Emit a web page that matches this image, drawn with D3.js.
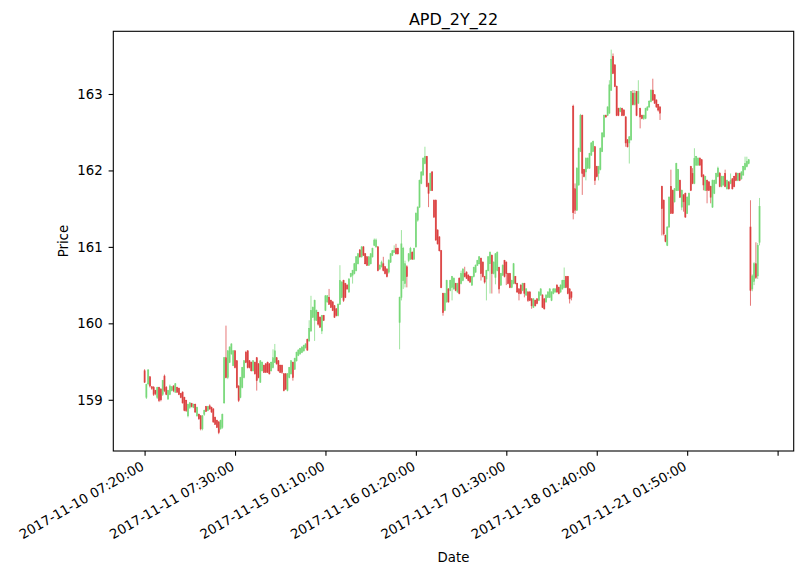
<!DOCTYPE html>
<html>
<head>
<meta charset="utf-8">
<script src="https://cdn.jsdelivr.net/npm/d3@7"></script>
<style>
  body { margin: 0; background: #fff; }
  text { font-family: "DejaVu Sans", sans-serif; fill: #000; }
</style>
</head>
<body>
<div id="viz"></div>
<script>
// candle values, one entry per bar (bar index = position on x)
let openPrices = [
  159.38,159.03,159.21,159.30,159.17,159.16,159.12,159.03,159.16,159.14,
  159.07,159.31,159.16,159.01,159.07,159.12,159.18,159.10,159.16,159.15,
  159.08,159.10,159.03,158.99,158.79,158.90,158.95,158.90,158.94,158.79,
  158.81,158.79,158.62,158.81,158.91,158.86,158.92,158.90,158.88,158.77,
  158.73,158.71,158.62,158.64,158.96,159.55,159.29,159.49,159.60,159.45,
  159.64,159.51,159.18,159.03,159.16,159.29,159.62,159.64,159.51,159.49,
  159.38,159.49,159.55,159.47,159.23,159.38,159.45,159.47,159.49,159.47,
  159.38,159.42,159.49,159.55,159.51,159.45,159.45,159.34,159.34,159.12,
  159.29,159.34,159.49,159.40,159.51,159.58,159.60,159.62,159.64,159.68,
  159.79,159.77,159.90,160.08,160.04,160.04,160.14,160.08,159.90,160.10,
  160.17,160.28,160.34,160.30,160.28,160.23,160.19,160.10,160.25,160.34,
  160.56,160.52,160.50,160.41,160.61,160.63,160.65,160.69,160.78,160.96,
  160.87,161.00,160.91,160.87,160.76,160.78,160.87,161.02,161.00,161.00,
  160.71,160.74,160.78,160.74,160.71,160.67,160.80,160.89,160.93,160.98,
  160.98,160.01,160.34,160.56,160.52,160.74,160.82,160.84,160.93,160.84,
  161.00,161.35,161.52,161.83,161.94,162.09,162.18,161.83,161.74,161.98,
  161.61,161.61,161.22,161.13,160.95,160.39,160.17,160.28,160.45,160.43,
  160.47,160.45,160.52,160.41,160.59,160.52,160.56,160.65,160.67,160.63,
  160.61,160.50,160.61,160.67,160.76,160.78,160.85,160.80,160.61,160.58,
  160.69,160.78,160.89,160.65,160.60,160.69,160.73,160.50,160.63,160.82,
  160.80,160.65,160.65,160.47,160.52,160.61,160.52,160.45,160.50,160.43,
  160.52,160.37,160.41,160.41,160.32,160.21,160.30,160.32,160.30,160.37,
  160.37,160.32,160.28,160.34,160.34,160.30,160.39,160.41,160.50,160.47,
  160.41,160.45,160.47,160.61,160.61,160.45,160.41,162.84,161.76,161.48,
  161.81,162.25,162.72,162.01,161.98,162.03,162.03,162.20,162.25,162.31,
  162.05,161.96,162.01,162.25,162.44,162.72,162.72,162.75,163.05,163.49,
  163.38,163.10,162.81,162.77,162.81,162.79,162.70,162.40,162.36,162.40,
  163.01,162.86,163.03,162.88,162.81,162.72,162.68,162.68,162.79,162.83,
  162.90,163.05,162.99,162.92,162.86,162.83,161.79,161.61,161.15,161.02,
  161.26,161.79,161.74,161.59,161.74,161.74,161.87,161.52,161.68,161.70,
  161.44,161.55,162.05,161.96,161.83,162.07,162.07,162.16,162.14,161.94,
  161.74,161.87,161.85,161.79,161.52,161.70,161.83,161.92,161.96,161.79,
  161.81,161.96,161.76,161.85,161.83,161.89,161.92,161.96,161.87,161.96,
  161.89,161.94,162.01,162.05,162.09,161.26,160.45,160.55,160.78,160.62,
  161.06
]

let highPrices = [
  159.40,159.21,159.40,159.31,159.18,159.18,159.13,159.17,159.17,159.15,
  159.26,159.33,159.18,159.13,159.20,159.18,159.19,159.22,159.17,159.16,
  159.09,159.11,159.04,159.00,158.95,158.97,158.96,158.95,158.95,158.91,
  158.82,158.80,158.80,158.87,158.92,158.92,158.94,158.91,158.89,158.78,
  158.74,158.72,158.74,158.82,159.56,159.97,159.65,159.70,159.74,159.65,
  159.65,159.52,159.19,159.30,159.43,159.52,159.64,159.65,159.52,159.50,
  159.52,159.50,159.56,159.48,159.52,159.50,159.46,159.48,159.50,159.48,
  159.50,159.66,159.73,159.56,159.52,159.46,159.46,159.35,159.35,159.35,
  159.43,159.52,159.50,159.55,159.63,159.66,159.68,159.70,159.72,159.74,
  159.80,160.04,160.36,160.22,160.31,160.18,160.15,160.09,160.11,160.11,
  160.37,160.37,160.45,160.31,160.29,160.24,160.20,160.26,160.76,160.55,
  160.57,160.53,160.51,160.59,160.66,160.70,160.79,160.88,160.92,160.97,
  161.01,161.01,160.92,160.88,160.88,160.92,160.99,161.11,161.11,161.01,
  160.77,160.82,160.87,160.75,160.72,160.84,160.92,160.96,161.02,161.04,
  160.99,160.35,161.22,161.00,160.82,160.76,160.92,161.00,160.94,160.99,
  161.45,161.53,161.88,161.99,162.17,162.31,162.19,161.84,161.97,161.99,
  161.62,161.62,161.23,161.14,160.96,160.40,160.40,160.57,160.46,160.57,
  160.62,160.60,160.53,160.53,160.60,160.69,160.72,160.74,160.68,160.64,
  160.62,160.62,160.74,160.77,160.83,160.88,160.86,160.81,160.62,160.70,
  160.88,160.94,160.90,160.81,160.92,160.94,160.74,160.66,160.77,160.83,
  160.81,160.66,160.66,160.57,160.79,160.62,160.53,160.46,160.51,160.53,
  160.53,160.46,160.42,160.42,160.33,160.33,160.31,160.33,160.42,160.46,
  160.38,160.33,160.38,160.42,160.46,160.42,160.46,160.46,160.51,160.48,
  160.51,160.57,160.73,160.62,160.62,160.46,160.42,162.86,161.83,162.04,
  162.30,162.74,162.73,162.02,162.17,162.17,162.23,162.37,162.39,162.32,
  162.06,162.06,162.30,162.50,162.73,162.73,162.84,163.18,163.58,163.53,
  163.39,163.11,162.82,162.83,162.82,162.80,162.71,162.41,162.45,163.04,
  163.05,163.05,163.04,163.18,162.82,162.73,162.73,162.82,162.84,162.92,
  163.06,163.20,163.00,162.93,162.87,162.84,161.80,161.62,161.16,161.27,
  161.66,162.01,161.75,161.77,162.10,162.02,161.88,161.75,161.69,161.71,
  161.66,161.71,162.06,162.03,162.29,162.19,162.17,162.17,162.15,161.95,
  161.93,161.88,161.86,161.80,161.88,161.88,161.97,162.05,161.98,161.93,
  161.93,162.01,161.88,161.86,161.96,161.90,161.93,161.98,161.97,161.97,
  161.99,162.06,162.18,162.18,162.15,161.61,160.64,160.80,161.06,161.05,
  161.64
]

let lowPrices = [
  159.22,159.01,159.19,159.16,159.13,159.05,159.06,159.01,158.97,158.98,
  159.05,159.10,159.06,159.00,159.06,159.11,159.10,159.09,159.09,159.06,
  159.02,158.95,158.85,158.84,158.77,158.88,158.90,158.89,158.83,158.78,
  158.74,158.60,158.60,158.79,158.84,158.85,158.87,158.83,158.70,158.67,
  158.63,158.55,158.61,158.62,158.95,159.28,159.27,159.48,159.59,159.44,
  159.41,159.15,158.97,159.02,159.15,159.28,159.48,159.41,159.41,159.37,
  159.37,159.33,159.12,159.28,159.22,159.37,159.35,159.35,159.35,159.33,
  159.37,159.41,159.48,159.46,159.37,159.35,159.34,159.11,159.13,159.11,
  159.28,159.33,159.25,159.39,159.50,159.57,159.59,159.61,159.63,159.67,
  159.64,159.76,159.89,160.07,159.77,160.03,159.97,159.94,159.86,160.03,
  160.16,160.27,160.24,160.20,160.16,160.07,160.09,160.09,160.24,160.33,
  160.28,160.33,160.44,160.40,160.60,160.52,160.64,160.68,160.77,160.86,
  160.86,160.88,160.77,160.75,160.75,160.77,160.86,161.01,160.99,160.68,
  160.70,160.73,160.68,160.64,160.60,160.65,160.79,160.88,160.92,160.90,
  160.90,159.66,160.30,160.45,160.47,160.47,160.80,160.83,160.83,160.83,
  160.99,161.33,161.51,161.82,161.93,162.08,161.78,161.52,161.73,161.73,
  161.38,161.08,161.03,160.94,160.46,160.10,160.16,160.27,160.27,160.42,
  160.30,160.44,160.42,160.40,160.38,160.51,160.55,160.60,160.58,160.55,
  160.53,160.49,160.60,160.66,160.75,160.77,160.56,160.60,160.52,160.30,
  160.68,160.39,160.39,160.64,160.51,160.68,160.39,160.49,160.62,160.60,
  160.50,160.51,160.46,160.46,160.51,160.51,160.40,160.30,160.38,160.42,
  160.34,160.36,160.28,160.29,160.19,160.20,160.22,160.25,160.29,160.36,
  160.20,160.18,160.27,160.33,160.33,160.29,160.38,160.40,160.40,160.38,
  160.40,160.44,160.46,160.46,160.38,160.26,160.30,161.36,161.43,161.47,
  161.80,162.24,161.68,161.91,161.87,162.02,162.02,162.19,162.24,161.81,
  161.91,161.87,162.00,162.24,162.43,162.69,162.71,162.74,163.04,163.26,
  163.09,162.71,162.71,162.76,162.71,162.71,162.31,162.30,162.09,162.39,
  162.85,162.85,162.71,162.87,162.55,162.67,162.66,162.67,162.78,162.82,
  162.89,162.91,162.87,162.82,162.77,162.66,161.15,161.15,161.06,161.01,
  161.25,161.43,161.43,161.58,161.73,161.73,161.64,161.48,161.46,161.38,
  161.43,161.54,161.73,161.82,161.82,162.06,162.06,162.06,161.91,161.74,
  161.73,161.57,161.73,161.57,161.51,161.69,161.82,161.91,161.78,161.78,
  161.80,161.78,161.75,161.75,161.82,161.75,161.78,161.86,161.86,161.86,
  161.88,161.93,162.00,162.04,162.08,160.23,160.42,160.50,160.58,160.58,
  161.02
]

let closePrices = [
  159.23,159.20,159.39,159.18,159.15,159.07,159.08,159.16,158.99,159.00,
  159.25,159.12,159.07,159.12,159.18,159.17,159.12,159.21,159.10,159.07,
  159.03,158.96,158.86,158.86,158.94,158.96,158.91,158.94,158.84,158.90,
  158.75,158.62,158.79,158.86,158.85,158.91,158.88,158.84,158.71,158.68,
  158.64,158.57,158.73,158.81,159.55,159.29,159.64,159.69,159.73,159.64,
  159.42,159.16,158.99,159.29,159.42,159.51,159.49,159.42,159.42,159.38,
  159.51,159.34,159.25,159.29,159.51,159.49,159.36,159.36,159.36,159.34,
  159.49,159.55,159.64,159.47,159.38,159.36,159.36,159.12,159.14,159.34,
  159.42,159.51,159.29,159.54,159.62,159.65,159.67,159.69,159.71,159.73,
  159.65,159.93,160.17,160.21,160.30,160.17,159.99,159.95,160.10,160.04,
  160.36,160.36,160.25,160.21,160.17,160.08,160.10,160.25,160.56,160.54,
  160.30,160.34,160.45,160.58,160.65,160.69,160.78,160.87,160.91,160.87,
  161.00,160.89,160.78,160.76,160.87,160.91,160.98,161.09,161.09,160.69,
  160.76,160.80,160.69,160.65,160.61,160.82,160.91,160.95,160.95,160.91,
  160.91,160.34,161.04,160.98,160.78,160.61,160.91,160.98,160.84,160.98,
  161.44,161.52,161.87,161.98,162.16,162.18,161.79,161.70,161.96,161.74,
  161.39,161.09,161.04,160.95,160.47,160.14,160.39,160.56,160.28,160.56,
  160.61,160.59,160.43,160.52,160.39,160.65,160.71,160.61,160.59,160.56,
  160.54,160.61,160.73,160.76,160.82,160.87,160.65,160.61,160.54,160.69,
  160.87,160.93,160.65,160.80,160.91,160.93,160.45,160.65,160.76,160.61,
  160.65,160.52,160.47,160.56,160.78,160.52,160.41,160.39,160.39,160.52,
  160.39,160.45,160.30,160.30,160.23,160.32,160.23,160.26,160.41,160.45,
  160.21,160.19,160.37,160.41,160.45,160.41,160.45,160.45,160.41,160.39,
  160.50,160.56,160.56,160.47,160.39,160.32,160.34,161.45,161.48,162.03,
  162.29,162.72,161.96,161.92,162.16,162.16,162.22,162.36,162.38,161.87,
  161.92,162.05,162.29,162.49,162.72,162.70,162.83,163.12,163.45,163.27,
  163.10,162.72,162.72,162.81,162.72,162.72,162.36,162.31,162.44,163.03,
  162.86,163.01,162.72,163.03,162.70,162.68,162.72,162.81,162.83,162.90,
  163.05,162.92,162.88,162.83,162.79,162.75,161.50,161.17,161.07,161.26,
  161.65,161.44,161.44,161.76,162.09,162.01,161.65,161.74,161.59,161.39,
  161.65,161.70,161.74,161.83,162.16,162.18,162.16,162.07,161.92,161.81,
  161.92,161.74,161.74,161.65,161.87,161.87,161.96,162.03,161.79,161.92,
  161.92,161.79,161.87,161.76,161.87,161.76,161.79,161.87,161.96,161.87,
  161.98,162.05,162.09,162.12,162.14,160.43,160.62,160.78,160.60,161.02,
  161.53
]

let tickIndex = [0, 50, 100, 150, 200, 250, 300, 350]
let tickLabels = [
  "2017-11-10 07:20:00", "2017-11-11 07:30:00", "2017-11-15 01:10:00",
  "2017-11-16 01:20:00", "2017-11-17 01:30:00", "2017-11-18 01:40:00",
  "2017-11-21 01:50:00", ""
]
let priceTicks = [159, 160, 161, 162, 163]

let colorUp = "#77d879"
let colorDown = "#db3f3f"

let candles = openPrices.map((o, i) => ({
  i: i,
  open: o,
  high: highPrices[i],
  low: lowPrices[i],
  close: closePrices[i]
}))

let w = 806;
let h = 576;
let plotLeft = 113.3, plotRight = 793.7, plotTop = 31.3, plotBottom = 451;
let candleWidth = 0.6;

const svg = d3.select("#viz")
  .append("svg")
  .attr("width", w)
  .attr("height", h)

// x is the bar index, padded like matplotlib's auto margins
const xScale = d3.scaleLinear()
  .domain([-17.3, 358.9])
  .range([plotLeft, plotRight]);

const yScale = d3.scaleLinear()
  .domain([158.33, 163.82])
  .range([plotBottom, plotTop]);

let candleGroup = svg.append("g")

// wicks
candleGroup.selectAll("line")
  .data(candles)
  .enter()
  .append("line")
  .attr("x1", d => xScale(d.i))
  .attr("x2", d => xScale(d.i))
  .attr("y1", d => yScale(d.high))
  .attr("y2", d => yScale(d.low))
  .attr("stroke", d => d.close >= d.open ? colorUp : colorDown)
  .attr("stroke-width", 0.7)

// bodies
candleGroup.selectAll("rect")
  .data(candles)
  .enter()
  .append("rect")
  .attr("x", d => xScale(d.i - candleWidth / 2))
  .attr("width", d => xScale(candleWidth) - xScale(0))
  .attr("y", d => yScale(Math.max(d.open, d.close)))
  .attr("height", d => Math.abs(yScale(d.open) - yScale(d.close)))
  .attr("fill", d => d.close >= d.open ? colorUp : colorDown)
  .attr("stroke", d => d.close >= d.open ? colorUp : colorDown)
  .attr("stroke-width", 0.6)

// frame
svg.append("rect")
  .attr("x", plotLeft)
  .attr("y", plotTop)
  .attr("width", plotRight - plotLeft)
  .attr("height", plotBottom - plotTop)
  .attr("fill", "none")
  .attr("stroke", "black")
  .attr("stroke-width", 1.1)

// x axis
let xAxis = svg.append("g")
  .attr("transform", `translate(0,${plotBottom})`)
  .call(d3.axisBottom(xScale)
    .tickValues(tickIndex)
    .tickFormat((d, k) => tickLabels[k])
    .tickSize(4.7)
    .tickPadding(0))

xAxis.select(".domain").remove()
xAxis.selectAll(".tick line").attr("stroke-width", 1.1)
xAxis.selectAll(".tick text")
  .attr("x", 0)
  .attr("y", 0)
  .attr("dy", "0.72em")
  .attr("text-anchor", "end")
  .attr("transform", "translate(-4.9,9.6) rotate(-30)")
  .style("font-size", "13.3px")
  .style("font-family", "DejaVu Sans")

// y axis
let yAxis = svg.append("g")
  .attr("transform", `translate(${plotLeft},0)`)
  .call(d3.axisLeft(yScale)
    .tickValues(priceTicks)
    .tickFormat(d3.format("d"))
    .tickSize(4.7)
    .tickPadding(6))

yAxis.select(".domain").remove()
yAxis.selectAll(".tick line").attr("stroke-width", 1.1)
yAxis.selectAll(".tick text")
  .style("font-size", "13.3px")
  .style("font-family", "DejaVu Sans")

// title and axis labels
svg.append("text")
  .attr("x", (plotLeft + plotRight) / 2)
  .attr("y", 24.5)
  .attr("text-anchor", "middle")
  .style("font-size", "16px")
  .text("APD_2Y_22")

svg.append("text")
  .attr("x", (plotLeft + plotRight) / 2)
  .attr("y", 562)
  .attr("text-anchor", "middle")
  .style("font-size", "13.3px")
  .text("Date")

svg.append("text")
  .attr("transform", `translate(67.5,${(plotTop + plotBottom) / 2}) rotate(-90)`)
  .attr("text-anchor", "middle")
  .style("font-size", "13.3px")
  .text("Price")
</script>
</body>
</html>
